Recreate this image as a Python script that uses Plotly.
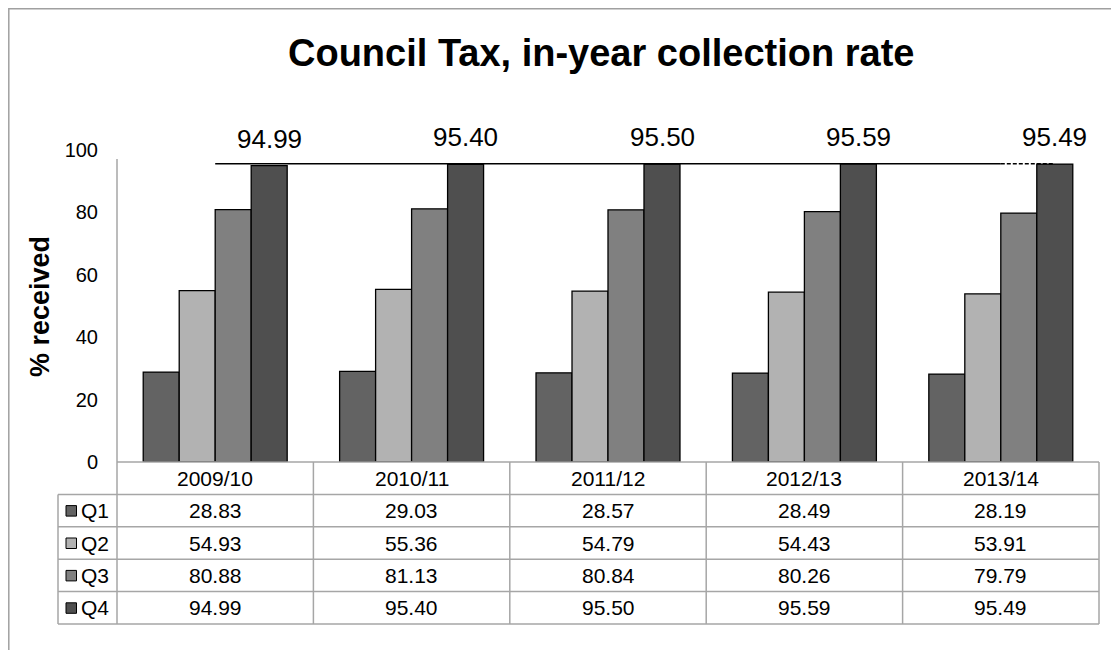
import plotly.graph_objects as go

years = ["2009/10", "2010/11", "2011/12", "2012/13", "2013/14"]
series = ["Q1", "Q2", "Q3", "Q4"]
q1 = [28.83, 29.03, 28.57, 28.49, 28.19]
q2 = [54.93, 55.36, 54.79, 54.43, 53.91]
q3 = [80.88, 81.13, 80.84, 80.26, 79.79]
q4 = [94.99, 95.40, 95.50, 95.59, 95.49]
colors = ["#636363", "#b2b2b2", "#808080", "#4f4f4f"]
yticks = [0, 20, 40, 60, 80, 100]

values = [q1, q2, q3, q4]
FONT = "Liberation Sans, Arial, sans-serif"
PAGE_W, PAGE_H = 1119, 650
OFF = 8  # default page body margin
W, H = PAGE_W - OFF, PAGE_H - OFF
L, R, T, B = 117, 1099, 150, 462  # plot area in page pixels


def px(x):
    return (x - L) / (R - L)


def py(y):
    return (B - y) / (B - T)


xs = list(range(len(years)))
fig = go.Figure()
for name, vals, col in zip(series, values, colors):
    fig.add_trace(go.Bar(
        x=xs, y=vals, name=name,
        marker=dict(color=col, line=dict(color="#000000", width=1.3)),
        hoverinfo="skip", showlegend=False,
    ))

# horizontal reference line at Q4 level
lvl = max(q4)
fig.add_trace(go.Scatter(x=[xs[0], xs[-1]], y=[lvl, lvl], mode="lines",
                         line=dict(color="#000000", width=1.5),
                         hoverinfo="skip", showlegend=False))
fig.add_trace(go.Scatter(x=[xs[-1], xs[-1] + 0.27], y=[lvl, lvl], mode="lines",
                         line=dict(color="#000000", width=1.5, dash="4px,2px"),
                         hoverinfo="skip", showlegend=False))

annotations = []
shapes = []

# Q4 data labels
for i, v in enumerate(q4):
    annotations.append(dict(x=i + 0.275, y=v, xref="x", yref="y", text=f"{v:.2f}",
                            showarrow=False, yanchor="middle", yshift=27,
                            font=dict(family=FONT, size=26, color="#000000")))

# Title
annotations.append(dict(x=px(601), y=py(53), xref="paper", yref="paper",
                        text="<b>Council Tax, in-year collection rate</b>",
                        showarrow=False, xanchor="center", yanchor="middle",
                        font=dict(family=FONT, size=38, color="#000000")))
# Y axis title
annotations.append(dict(x=px(40), y=py(307), xref="paper", yref="paper",
                        text="<b>% received</b>", textangle=-90,
                        showarrow=False, xanchor="center", yanchor="middle",
                        font=dict(family=FONT, size=27, color="#000000")))

# Y axis line (slightly shorter than the top of the range, as in the original)
shapes.append(dict(type="line", xref="paper", yref="paper", x0=0, x1=0,
                   y0=0, y1=py(159), line=dict(color="#a6a6a6", width=1.5)))

# Table geometry
col_edges = [117, 313.4, 509.8, 706.2, 902.6, 1099]
row_edges = [462, 494.4, 526.8, 559.2, 591.6, 624]
leg_left = 58
grid = dict(color="#a6a6a6", width=1.5)

# horizontal lines
shapes.append(dict(type="line", xref="paper", yref="paper", x0=px(col_edges[0]), x1=px(col_edges[-1]),
                   y0=py(row_edges[0]), y1=py(row_edges[0]), line=grid))
for r in row_edges[1:]:
    shapes.append(dict(type="line", xref="paper", yref="paper", x0=px(leg_left), x1=px(col_edges[-1]),
                       y0=py(r), y1=py(r), line=grid))
# vertical lines
shapes.append(dict(type="line", xref="paper", yref="paper", x0=px(leg_left), x1=px(leg_left),
                   y0=py(row_edges[1]), y1=py(row_edges[-1]), line=grid))
for c in col_edges:
    shapes.append(dict(type="line", xref="paper", yref="paper", x0=px(c), x1=px(c),
                       y0=py(row_edges[0]), y1=py(row_edges[-1]), line=grid))

# header
for i, yr in enumerate(years):
    cx = (col_edges[i] + col_edges[i + 1]) / 2
    cy = (row_edges[0] + row_edges[1]) / 2
    annotations.append(dict(x=px(cx), y=py(cy), xref="paper", yref="paper", text=yr,
                            showarrow=False, xanchor="center", yanchor="middle",
                            font=dict(family=FONT, size=21, color="#000000")))
# rows
for j, (name, vals, col) in enumerate(zip(series, values, colors)):
    cy = (row_edges[j + 1] + row_edges[j + 2]) / 2
    shapes.append(dict(type="rect", xref="paper", yref="paper",
                       x0=px(66), x1=px(76.5), y0=py(cy - 5), y1=py(cy + 5.5),
                       fillcolor=col, line=dict(color="#000000", width=1)))
    annotations.append(dict(x=px(79), y=py(cy), xref="paper", yref="paper", text=name,
                            showarrow=False, xanchor="left", yanchor="middle",
                            font=dict(family=FONT, size=21, color="#000000")))
    for i, v in enumerate(vals):
        cx = (col_edges[i] + col_edges[i + 1]) / 2
        annotations.append(dict(x=px(cx), y=py(cy), xref="paper", yref="paper", text=f"{v:.2f}",
                                showarrow=False, xanchor="center", yanchor="middle",
                                font=dict(family=FONT, size=21, color="#000000")))

# outer chart border
shapes.append(dict(type="rect", xref="paper", yref="paper", x0=px(8.8), x1=px(1130),
                   y0=py(8.8), y1=py(670), line=dict(color="#a0a0a0", width=1.5),
                   fillcolor="rgba(0,0,0,0)", layer="below"))

fig.update_layout(
    width=W, height=H,
    margin=dict(l=L - OFF, r=PAGE_W - R, t=T - OFF, b=PAGE_H - B, pad=0),
    paper_bgcolor="#ffffff", plot_bgcolor="#ffffff",
    barmode="group", bargap=0.267, bargroupgap=0,
    xaxis=dict(range=[-0.5, len(years) - 0.5], showticklabels=False, showgrid=False,
               zeroline=False, showline=False, ticks="", fixedrange=True),
    yaxis=dict(range=[0, 100], tickvals=yticks, showgrid=False, zeroline=False,
               showline=False, ticks="",
               ticklabelstandoff=18,
               tickfont=dict(family=FONT, size=20, color="#000000"), fixedrange=True),
    annotations=annotations, shapes=shapes,
    showlegend=False, hovermode=False,
)

fig.write_html("out.html", config={"displayModeBar": False})
